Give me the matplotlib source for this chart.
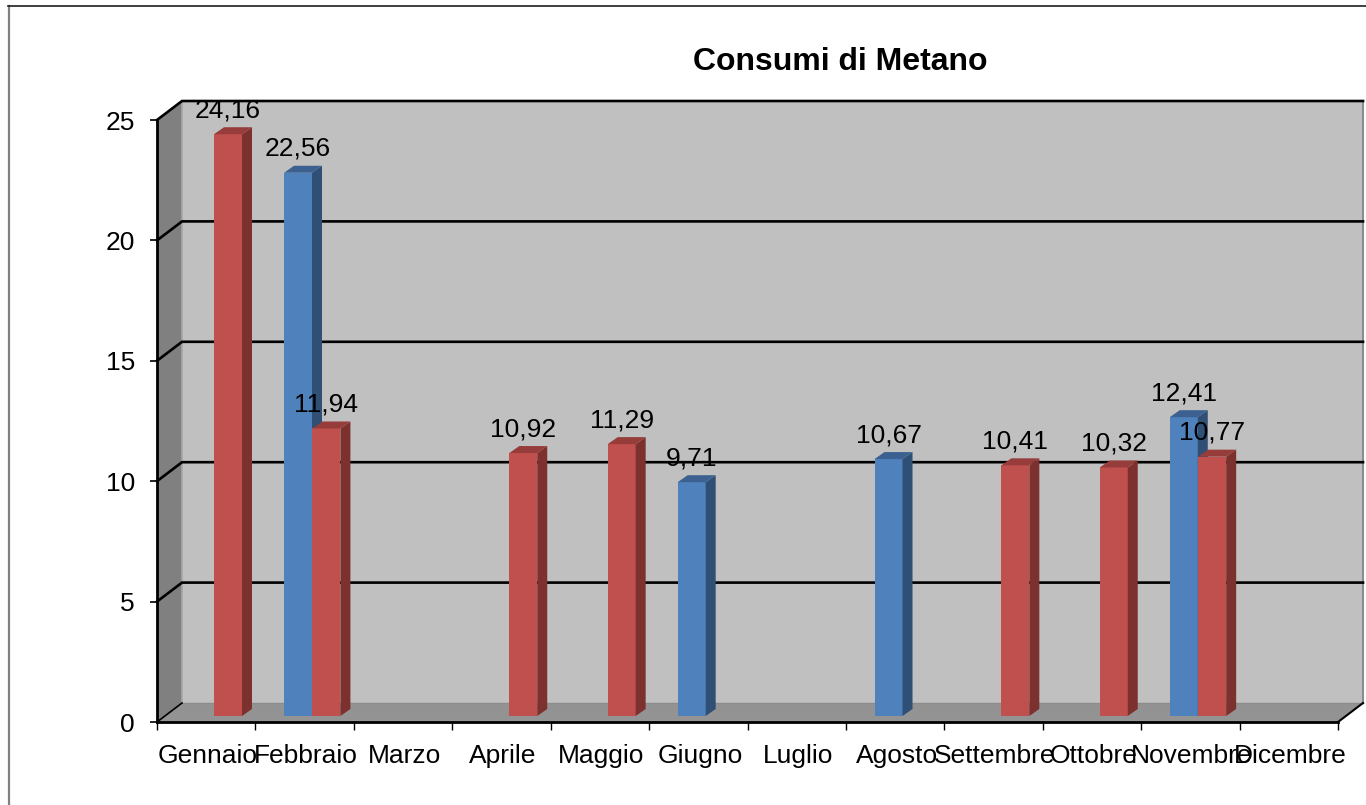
# -*- coding: utf-8 -*-

import numpy as np
import matplotlib
matplotlib.use('Agg')
import matplotlib.pyplot as plt
from matplotlib.lines import Line2D

plt.rcParams['font.family'] = ['Liberation Sans', 'DejaVu Sans']

# Chart data
months = ['Gennaio', 'Febbraio', 'Marzo', 'Aprile', 'Maggio', 'Giugno', 'Luglio',
          'Agosto', 'Settembre', 'Ottobre', 'Novembre', 'Dicembre']
blue_values = [np.nan, 22.56, np.nan, np.nan, np.nan, 9.71, np.nan,
               10.67, np.nan, np.nan, 12.41, np.nan]
red_values = [24.16, 11.94, np.nan, 10.92, 11.29, np.nan, np.nan,
              np.nan, 10.41, 10.32, 10.77, np.nan]
y_ticks = [0, 5, 10, 15, 20, 25]

W, H = 1366, 805
fig = plt.figure(figsize=(W / 100, H / 100), dpi=100, facecolor='white')

# Front plane of the fake 3D box, in pixels
left, right, top, bottom = 157, 1338, 120, 722
ax = fig.add_axes([left / W, (H - bottom) / H, (right - left) / W, (bottom - top) / H])
ax.set_xlim(0, 12)
ax.set_ylim(0, 25)

px = 12 / (right - left)   # one pixel in category units
py = 25 / (bottom - top)   # one pixel in value units
depth_x = 25 * px
depth_y = 19 * py

# Walls and floor
ax.fill([0, depth_x, depth_x, 0], [0, depth_y, 25 + depth_y, 25],
        color='#808080', clip_on=False, zorder=1, lw=0)
ax.fill([depth_x, 12 + depth_x, 12 + depth_x, depth_x],
        [depth_y, depth_y, 25 + depth_y, 25 + depth_y],
        color='#C0C0C0', clip_on=False, zorder=1, lw=0)
ax.fill([0, 12, 12 + depth_x, depth_x], [0, 0, depth_y, depth_y],
        color='#939393', clip_on=False, zorder=1, lw=0)

# Wall edges
ax.plot([depth_x, depth_x], [depth_y, 25 + depth_y], color='#A6A6A6', lw=1.2,
        clip_on=False, zorder=2)
ax.plot([12 + depth_x, 12 + depth_x], [depth_y, 25 + depth_y], color='#8C8C8C', lw=1.5,
        clip_on=False, zorder=2)
ax.plot([depth_x, 12 + depth_x], [depth_y, depth_y], color='#8C8C8C', lw=1,
        clip_on=False, zorder=2)

# Gridlines on the side and back wall
for v in y_ticks[1:]:
    ax.plot([0, depth_x, 12 + depth_x], [v, v + depth_y, v + depth_y],
            color='black', lw=1.9, clip_on=False, zorder=2, solid_joinstyle='miter')
ax.plot([0, depth_x], [0, depth_y], color='black', lw=1.2, clip_on=False, zorder=2)
ax.plot([12, 12 + depth_x], [0, depth_y], color='black', lw=1.5, clip_on=False, zorder=2)

# Bars, drawn as front, side and top faces
bar_w = 28 * px
bar_dx = 10 * px
bar_dy = 7 * py
base = 6 * py


def draw_bar(x, v, front, side, roof, label):
    y0, y1 = base, base + v
    ax.fill([x, x + bar_w, x + bar_w, x], [y0, y0, y1, y1], color=front, lw=0,
            clip_on=False, zorder=3)
    ax.fill([x + bar_w, x + bar_w + bar_dx, x + bar_w + bar_dx, x + bar_w],
            [y0, y0 + bar_dy, y1 + bar_dy, y1], color=side, lw=0, clip_on=False, zorder=3)
    ax.fill([x, x + bar_w, x + bar_w + bar_dx, x + bar_dx],
            [y1, y1, y1 + bar_dy, y1 + bar_dy], color=roof, lw=0, clip_on=False, zorder=3)
    ax.annotate(label, (x + bar_w / 2, y1), xytext=(0, 17.3), textcoords='offset points',
                ha='center', va='center', fontsize=19, color='black', zorder=5,
                annotation_clip=False)


for i in range(len(months)):
    if not np.isnan(blue_values[i]):
        draw_bar(i + 28.6 * px, blue_values[i], '#4F81BD', '#2F4F75', '#3C6190',
                 f'{blue_values[i]:.2f}'.replace('.', ','))
    if not np.isnan(red_values[i]):
        draw_bar(i + 57 * px, red_values[i], '#C0504D', '#7D312F', '#963C3A',
                 f'{red_values[i]:.2f}'.replace('.', ','))

# Axes and ticks
for side in ['top', 'right']:
    ax.spines[side].set_visible(False)
for side in ['left', 'bottom']:
    ax.spines[side].set_linewidth(2)
    ax.spines[side].set_zorder(4)
ax.patch.set_visible(False)

ax.set_yticks(y_ticks)
ax.tick_params(axis='y', length=5, width=1.2, labelsize=19, pad=11)
ax.set_xticks(np.arange(13))
ax.set_xticklabels([])
ax.set_xticks(np.arange(12) + 0.515, minor=True)
ax.set_xticklabels(months, minor=True)
ax.tick_params(axis='x', which='major', length=6, width=1)
ax.tick_params(axis='x', which='minor', length=0, labelsize=19, pad=15.5)

# Title and chart border
fig.text(840 / W, 1 - 59 / H, 'Consumi di Metano', fontsize=23, fontweight='bold',
         ha='center', va='center_baseline')
fig.add_artist(Line2D([8.5 / W, 8.5 / W], [0, 1 - 6 / H], color='#808080', lw=1.6))
fig.add_artist(Line2D([8 / W, 1], [1 - 6.5 / H, 1 - 6.5 / H], color='#202020', lw=1.2))

fig.savefig('out.png', dpi=100)
